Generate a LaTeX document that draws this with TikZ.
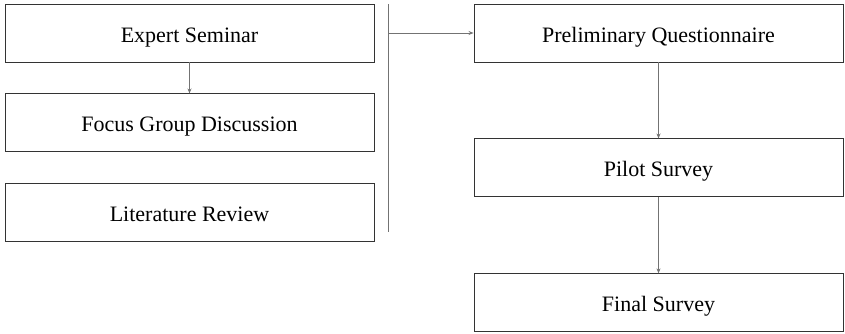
\documentclass[tikz,border=0pt]{standalone}
\usepackage{fontspec}
\setmainfont{Liberation Serif}
\usetikzlibrary{positioning,arrows.meta}
\begin{document}
\begin{tikzpicture}[x=1pt, y=-1pt, node distance=31pt, >={Stealth[length=5pt,width=4pt]}]
    \tikzstyle{stage} = [rectangle, draw=black!80, line width=0.9pt, minimum width=369pt, minimum height=58pt, inner sep=0pt, text height=19pt, text depth=1pt, text centered, font=\fontsize{22}{24}\selectfont]
    \tikzstyle{link} = [->, draw=black!55, line width=0.8pt]
    \useasboundingbox (0,0) rectangle (845,333);

    % Left column
    \node [stage] (seminar) at (189.5,33) {Expert Seminar};
    \node [stage, below=of seminar] (focus) {Focus Group Discussion};
    \node [stage, below=of focus] (literature) {Literature Review};

    % Right column
    \node [stage] (prelim) at (658.5,33) {Preliminary Questionnaire};
    \node [stage, below=76pt of prelim] (pilot) {Pilot Survey};
    \node [stage, below=76pt of pilot] (final) {Final Survey};

    % Bar joining the left column
    \coordinate (bartop) at (388,4);
    \coordinate (barbot) at (388,232);
    \coordinate (barmid) at (388,33);
    \draw [draw=black!55, line width=0.8pt] (bartop) -- (barbot);

    % Connections
    \draw [link] (seminar) -- (focus);
    \draw [link] (barmid) -- (prelim.west);
    \draw [link] (prelim) -- (pilot);
    \draw [link] (pilot) -- (final);
\end{tikzpicture}
\end{document}
